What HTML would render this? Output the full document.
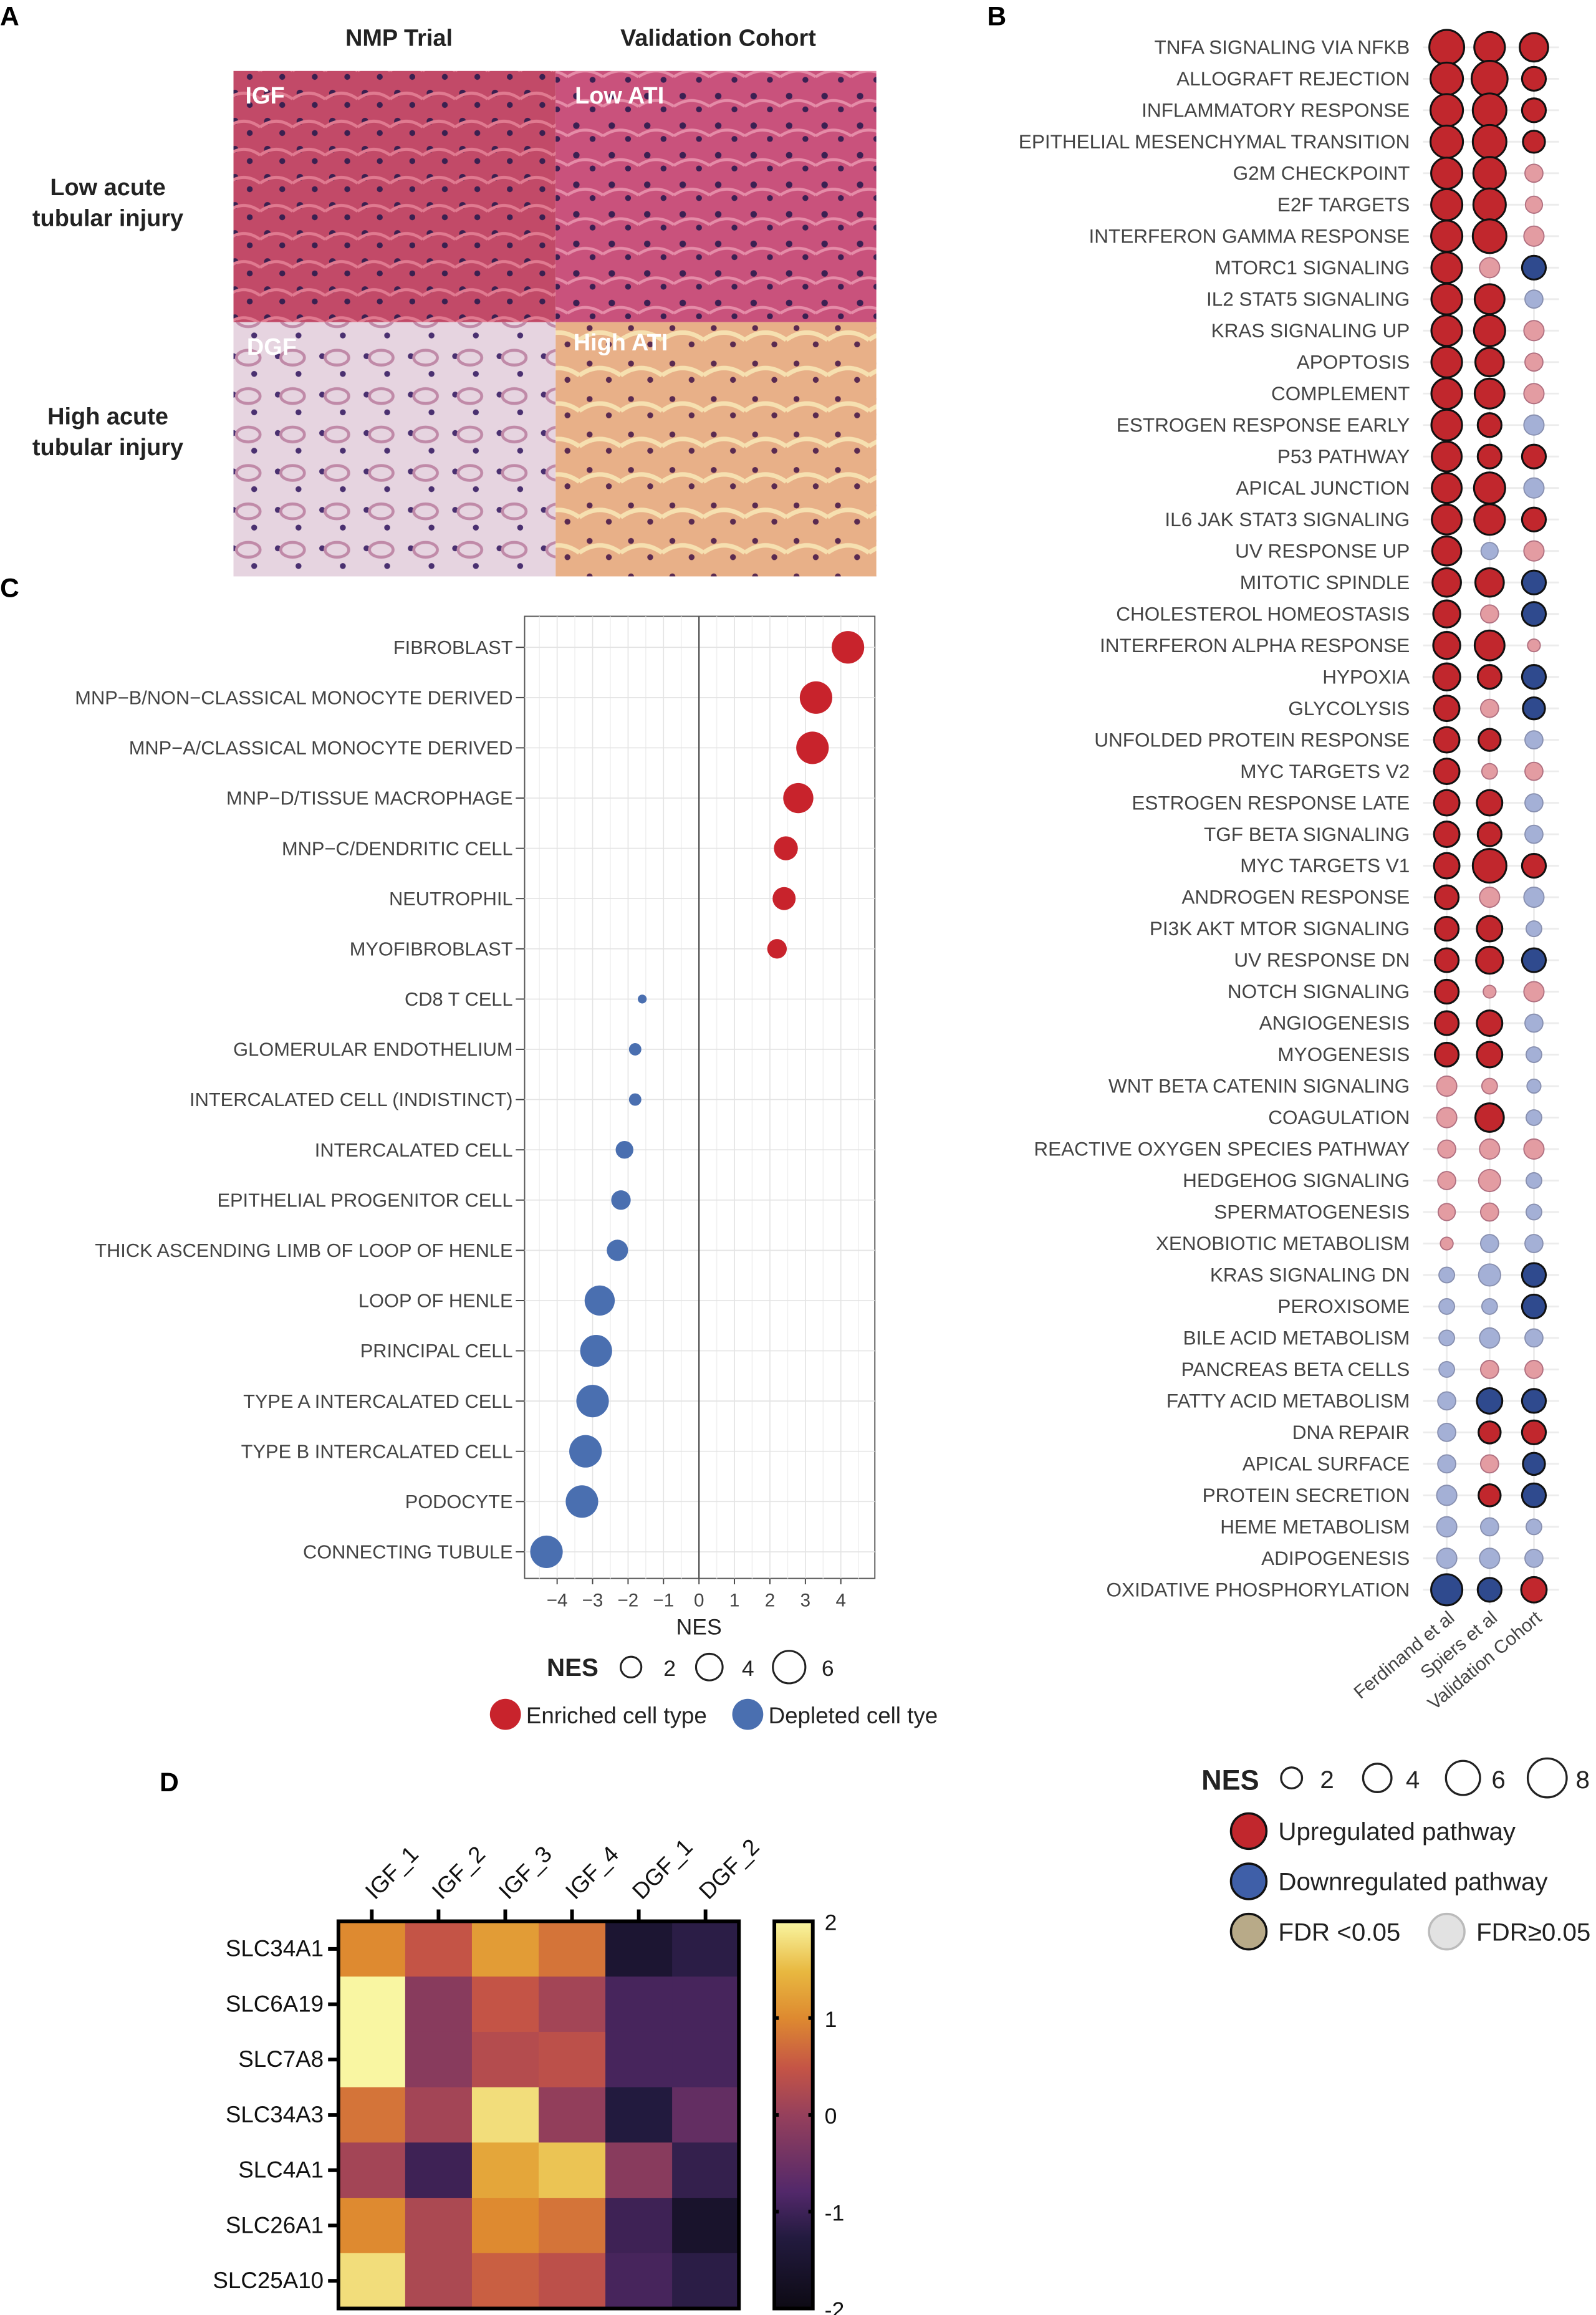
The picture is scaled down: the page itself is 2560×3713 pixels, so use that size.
<!DOCTYPE html>
<html><head><meta charset="utf-8">
<style>
html,body{margin:0;padding:0;background:#fff;}
svg{display:block;font-family:"Liberation Sans",sans-serif;}
</style></head>
<body>
<svg id="fig" width="2560" height="3713" viewBox="0 0 1080 1566.4" xmlns="http://www.w3.org/2000/svg">
<defs>
<linearGradient id="cbar" x1="0" y1="1" x2="0" y2="0">
<stop offset="0" stop-color="#0d0a14"/><stop offset="0.18" stop-color="#221a3e"/><stop offset="0.3" stop-color="#52286a"/>
<stop offset="0.5" stop-color="#96405c"/><stop offset="0.62" stop-color="#c45446"/><stop offset="0.75" stop-color="#de8a30"/>
<stop offset="0.87" stop-color="#e8b840"/><stop offset="1" stop-color="#f9f6a2"/></linearGradient>
<pattern id="nuc1" width="22" height="19" patternUnits="userSpaceOnUse"><rect width="22" height="19" fill="#c24a68"/><circle cx="5" cy="6" r="2.3" fill="#3a2050"/><circle cx="15" cy="14" r="2" fill="#3a2050"/><path d="M0 10 Q11 2 22 10" stroke="#e07a90" stroke-width="2" fill="none"/></pattern>
<pattern id="nuc2" width="24" height="20" patternUnits="userSpaceOnUse"><rect width="24" height="20" fill="#c9527c"/><circle cx="6" cy="5" r="2.2" fill="#3b2052"/><circle cx="17" cy="14" r="2" fill="#3b2052"/><path d="M0 12 Q12 4 24 12" stroke="#e58ca8" stroke-width="2" fill="none"/></pattern>
<pattern id="nuc3" width="30" height="26" patternUnits="userSpaceOnUse"><rect width="30" height="26" fill="#e6d4e0"/><circle cx="8" cy="7" r="2" fill="#4a3070"/><circle cx="22" cy="19" r="2" fill="#4a3070"/><ellipse cx="18" cy="8" rx="8" ry="5" fill="none" stroke="#c08aa8" stroke-width="2"/></pattern>
<pattern id="nuc4" width="28" height="24" patternUnits="userSpaceOnUse"><rect width="28" height="24" fill="#e8b088"/><circle cx="7" cy="6" r="2" fill="#5a2a50"/><circle cx="20" cy="17" r="2" fill="#5a2a50"/><path d="M0 14 Q14 4 28 14" stroke="#f6e0b0" stroke-width="3" fill="none"/></pattern>
</defs>

<text x="0" y="17" font-size="18" font-weight="bold">A</text>
<text x="668" y="17" font-size="18" font-weight="bold">B</text>
<text x="0" y="404" font-size="18" font-weight="bold">C</text>
<text x="108" y="1212" font-size="18" font-weight="bold">D</text>

<g>
<text x="270" y="31" font-size="16" font-weight="bold" text-anchor="middle" fill="#222">NMP Trial</text>
<text x="486" y="31" font-size="16" font-weight="bold" text-anchor="middle" fill="#222">Validation Cohort</text>
<text x="73" y="132" font-size="16" font-weight="bold" text-anchor="middle" fill="#222">Low acute</text>
<text x="73" y="153" font-size="16" font-weight="bold" text-anchor="middle" fill="#222">tubular injury</text>
<text x="73" y="287" font-size="16" font-weight="bold" text-anchor="middle" fill="#222">High acute</text>
<text x="73" y="308" font-size="16" font-weight="bold" text-anchor="middle" fill="#222">tubular injury</text>
<rect x="158" y="48" width="218" height="170" fill="url(#nuc1)"/>
<rect x="376" y="48" width="217" height="170" fill="url(#nuc2)"/>
<rect x="158" y="218" width="218" height="172" fill="url(#nuc3)"/>
<rect x="376" y="218" width="217" height="172" fill="url(#nuc4)"/>
<text x="166" y="70" font-size="16" font-weight="bold" fill="#fff">IGF</text>
<text x="389" y="70" font-size="16" font-weight="bold" fill="#fff">Low ATI</text>
<text x="167" y="240" font-size="16" font-weight="bold" fill="#fff">DGF</text>
<text x="388" y="237" font-size="16" font-weight="bold" fill="#fff">High ATI</text>
</g>

<g id="panelC"></g>
<g id="panelB"></g>
<g id="panelD"></g>
</svg>

<script>
const cellTypes = ["FIBROBLAST","MNP\u2212B/NON\u2212CLASSICAL MONOCYTE DERIVED","MNP\u2212A/CLASSICAL MONOCYTE DERIVED","MNP\u2212D/TISSUE MACROPHAGE","MNP\u2212C/DENDRITIC CELL","NEUTROPHIL","MYOFIBROBLAST","CD8 T CELL","GLOMERULAR ENDOTHELIUM","INTERCALATED CELL (INDISTINCT)","INTERCALATED CELL","EPITHELIAL PROGENITOR CELL","THICK ASCENDING LIMB OF LOOP OF HENLE","LOOP OF HENLE","PRINCIPAL CELL","TYPE A INTERCALATED CELL","TYPE B INTERCALATED CELL","PODOCYTE","CONNECTING TUBULE"];
const cellNES = [4.2,3.3,3.2,2.8,2.45,2.4,2.2,-1.6,-1.8,-1.8,-2.1,-2.2,-2.3,-2.8,-2.9,-3.0,-3.2,-3.3,-4.3];
const nesTicks = [-4,-3,-2,-1,0,1,2,3,4];
const nesTickLabels = ["\u22124","\u22123","\u22122","\u22121","0","1","2","3","4"];

const pathways = ["TNFA SIGNALING VIA NFKB","ALLOGRAFT REJECTION","INFLAMMATORY RESPONSE","EPITHELIAL MESENCHYMAL TRANSITION","G2M CHECKPOINT","E2F TARGETS","INTERFERON GAMMA RESPONSE","MTORC1 SIGNALING","IL2 STAT5 SIGNALING","KRAS SIGNALING UP","APOPTOSIS","COMPLEMENT","ESTROGEN RESPONSE EARLY","P53 PATHWAY","APICAL JUNCTION","IL6 JAK STAT3 SIGNALING","UV RESPONSE UP","MITOTIC SPINDLE","CHOLESTEROL HOMEOSTASIS","INTERFERON ALPHA RESPONSE","HYPOXIA","GLYCOLYSIS","UNFOLDED PROTEIN RESPONSE","MYC TARGETS V2","ESTROGEN RESPONSE LATE","TGF BETA SIGNALING","MYC TARGETS V1","ANDROGEN RESPONSE","PI3K AKT MTOR SIGNALING","UV RESPONSE DN","NOTCH SIGNALING","ANGIOGENESIS","MYOGENESIS","WNT BETA CATENIN SIGNALING","COAGULATION","REACTIVE OXYGEN SPECIES PATHWAY","HEDGEHOG SIGNALING","SPERMATOGENESIS","XENOBIOTIC METABOLISM","KRAS SIGNALING DN","PEROXISOME","BILE ACID METABOLISM","PANCREAS BETA CELLS","FATTY ACID METABOLISM","DNA REPAIR","APICAL SURFACE","PROTEIN SECRETION","HEME METABOLISM","ADIPOGENESIS","OXIDATIVE PHOSPHORYLATION"];
const studies = ["Ferdinand et al","Spiers et al","Validation Cohort"];
const nesFerdinand = [7.5,6.5,6.5,6.5,6,6,6,5.8,5.8,5.8,5.8,5.8,5.8,5.5,5.5,5.5,5.2,5,4.5,4.5,4.5,4,4,4,4,4,4,3.5,3.5,3.5,3.5,3.5,3.5,2.5,2.5,2,2,1.8,1,-1.5,-1.5,-1.5,-1.5,-2,-2,-2,-2.5,-2.5,-2.5,-6];
const nesSpiers = [5.8,8,7,7,6.5,6.5,7,2.5,5.5,6,5,5.5,3.5,3.5,6,5.8,-1.8,5,2,5.5,3.5,2,3,1.5,4,3.5,7,2.5,4,4.5,1,4,4,1.5,5,2.5,3,2,-2,-3,-1.5,-2.5,2,-4,3,2,3,-2,-2.5,-3.5];
const nesValidation = [5,3.5,3.5,3,2,1.8,2.5,-3.5,-2,2.5,2,2.5,-2.5,3.5,-2.5,3.5,2.5,-3.5,-3.5,1,-3.5,-3,-2,2,-2,-2,3.5,-2.5,-1.5,-3.5,2.5,-2,-1.5,-1.2,-1.5,2.5,-1.5,-1.5,-2,-3.5,-3.5,-2,2,-3.5,3.5,-3,-3.5,-1.5,-2,4];
const sigFerdinand = [1,1,1,1,1,1,1,1,1,1,1,1,1,1,1,1,1,1,1,1,1,1,1,1,1,1,1,1,1,1,1,1,1,0,0,0,0,0,0,0,0,0,0,0,0,0,0,0,0,1];
const sigSpiers = [1,1,1,1,1,1,1,0,1,1,1,1,1,1,1,1,0,1,0,1,1,0,1,0,1,1,1,0,1,1,0,1,1,0,1,0,0,0,0,0,0,0,0,1,1,0,1,0,0,1];
const sigValidation = [1,1,1,1,0,0,0,1,0,0,0,0,0,1,0,1,0,1,1,0,1,1,0,0,0,0,1,0,0,1,0,0,0,0,0,0,0,0,0,1,1,0,0,1,1,1,1,0,0,1];
const legendNES = [2,4,6,8];

const genes = ["SLC34A1","SLC6A19","SLC7A8","SLC34A3","SLC4A1","SLC26A1","SLC25A10"];
const samples = ["IGF_1","IGF_2","IGF_3","IGF_4","DGF_1","DGF_2"];
const zIGF1 = [1.0,2.0,2.0,0.8,0.1,1.0,1.8];
const zIGF2 = [0.5,-0.2,-0.2,0.1,-1.0,0.2,0.2];
const zIGF3 = [1.2,0.5,0.3,1.8,1.3,1.0,0.6];
const zIGF4 = [0.8,0.1,0.4,-0.1,1.6,0.8,0.4];
const zDGF1 = [-1.5,-0.9,-0.9,-1.3,-0.2,-1.0,-0.9];
const zDGF2 = [-1.2,-0.9,-0.9,-0.6,-1.1,-1.6,-1.2];
const colorTicks = [2,1,0,-1,-2];

const NS = "http://www.w3.org/2000/svg";
function mk(tag, attrs, parent, txt){
  const e = document.createElementNS(NS, tag);
  for (const k in attrs) e.setAttribute(k, attrs[k]);
  if (txt !== undefined) e.textContent = txt;
  parent.appendChild(e);
  return e;
}

(function(){
  const g = document.getElementById('panelC');
  const x0 = 355, x1 = 592, y0 = 417, y1 = 1068;
  const xs = v => 473 + v * 24;
  const ys = i => 438 + i * 34;
  const rs = v => Math.min(11, 3 + 6 * Math.max(Math.abs(v) - 1.6, 0));
  mk('rect', {x:x0, y:y0, width:x1-x0, height:y1-y0, fill:'#fff', stroke:'#555', 'stroke-width':0.8}, g);
  for (let v = -4.5; v <= 4.5; v += 0.5) {
    const l = mk('line', {x1:xs(v), x2:xs(v), y1:y0, y2:y1, stroke: (v % 1 === 0) ? '#e4e4e4' : '#f0f0f0', 'stroke-width':0.7}, g);
    
    
  }
  cellTypes.forEach((c, i) => {
    const l = mk('line', {x1:x0, x2:x1, y1:ys(i), y2:ys(i), stroke:'#e4e4e4', 'stroke-width':0.7}, g);
    
    
    const t = mk('text', {x:347, y:ys(i)+4.5, 'font-size':13, fill:'#444', 'text-anchor':'end'}, g, c);
    
    
    mk('line', {x1:349, x2:355, y1:ys(i), y2:ys(i), stroke:'#444', 'stroke-width':0.8}, g);
  });
  mk('line', {x1:xs(0), x2:xs(0), y1:y0, y2:y1, stroke:'#555', 'stroke-width':1}, g);
  cellNES.forEach((v, i) => {
    const c = mk('circle', {cx:xs(v), cy:ys(i), r:rs(v), fill: v > 0 ? '#c8232c' : '#4a6fb0'}, g);
    
    
  });
  nesTicks.forEach((v, i) => {
    mk('line', {x1:xs(v), x2:xs(v), y1:y1, y2:y1+4, stroke:'#444', 'stroke-width':0.8}, g);
    const t = mk('text', {x:xs(v), y:1087, 'font-size':12.5, fill:'#444', 'text-anchor':'middle'}, g, nesTickLabels[i]);
    
    
  });
  const xt = mk('text', {x:473, y:1106, 'font-size':15, fill:'#222', 'text-anchor':'middle'}, g, 'NES');
  
  
  const lt = mk('text', {x:370, y:1134, 'font-size':17, 'font-weight':'bold', fill:'#222'}, g, 'NES');
  
  
  [[427,7,'2'],[480,9,'4'],[534,11,'6']].forEach(a => {
    const c = mk('circle', {cx:a[0], cy:1128, r:a[1], fill:'#fff', stroke:'#222', 'stroke-width':1.3}, g);
    
    
    mk('text', {x:a[0]+22, y:1134, 'font-size':15, fill:'#222'}, g, a[2]);
  });
  const e1 = mk('circle', {cx:342, cy:1160, r:10.5, fill:'#c8232c'}, g);
  
  
  mk('text', {x:356, y:1166, 'font-size':15.5, fill:'#222'}, g, 'Enriched cell type');
  const e2 = mk('circle', {cx:506, cy:1160, r:10.5, fill:'#4a6fb0'}, g);
  
  
  mk('text', {x:520, y:1166, 'font-size':15.5, fill:'#222'}, g, 'Depleted cell tye');
})();

(function(){
  const g = document.getElementById('panelB');
  const colX = [979, 1008, 1038];
  const ys = i => 32 + i * 21.3;
  const rs = v => 4.3 * Math.sqrt(Math.abs(v));
  const cols = [nesFerdinand, nesSpiers, nesValidation];
  const sigs = [sigFerdinand, sigSpiers, sigValidation];
  colX.forEach(x => mk('line', {x1:x, x2:x, y1:22, y2:1086, stroke:'#ececec', 'stroke-width':1.2}, g));
  pathways.forEach((p, i) => {
    const y = ys(i);
    mk('line', {x1:963, x2:1055, y1:y, y2:y, stroke:'#ececec', 'stroke-width':1.2}, g);
    const t = mk('text', {x:954, y:y+4.5, 'font-size':13.3, fill:'#444', 'text-anchor':'end'}, g, p);
    
    
  });
  pathways.forEach((p, i) => {
    cols.forEach((arr, j) => {
      const v = arr[i], s = sigs[j][i];
      let fill, stroke, sw;
      if (v > 0) { fill = s ? '#c1272d' : '#e39ca2'; }
      else { fill = s ? '#2f4a8e' : '#a4b0d6'; }
      stroke = s ? '#111' : (v > 0 ? '#b07080' : '#8890b0');
      sw = s ? 1.3 : 0.8;
      const c = mk('circle', {cx:colX[j], cy:ys(i), r:rs(v), fill:fill, stroke:stroke, 'stroke-width':sw}, g);
      
      
    });
  });
  studies.forEach((s, j) => {
    const t = mk('text', {x:colX[j]+6, y:1096, 'font-size':12.6, fill:'#444', 'text-anchor':'end', transform:`rotate(-40 ${colX[j]+6} 1096)`}, g, s);
    
    
  });
  const lt = mk('text', {x:813, y:1211, 'font-size':19, 'font-weight':'bold', fill:'#222'}, g, 'NES');
  
  
  const lx = [874, 932, 990, 1047];
  legendNES.forEach((v, i) => {
    const c = mk('circle', {cx:lx[i], cy:1203, r:4.3*Math.sqrt(v)+1, fill:'#fff', stroke:'#222', 'stroke-width':1.4}, g);
    
    
    mk('text', {x:lx[i]+24, y:1210, 'font-size':17, fill:'#222', 'text-anchor':'middle'}, g, String(v));
  });
  const leg = [[845,1239,'#c1272d','Upregulated pathway'],[845,1273,'#3f5fa8','Downregulated pathway'],[845,1307,'#b8aa88','FDR <0.05'],[979,1307,'#e2e2e2','FDR\u22650.05']];
  leg.forEach(a => {
    const c = mk('circle', {cx:a[0], cy:a[1], r:12, fill:a[2], stroke: a[2]==='#e2e2e2' ? '#bbb' : '#111', 'stroke-width':1.5}, g);
    
    
    mk('text', {x:a[0]+20, y:a[1]+6, 'font-size':17, fill:'#222'}, g, a[3]);
  });
})();

(function(){
  const g = document.getElementById('panelD');
  const x0 = 229, x1 = 500, y0 = 1300, y1 = 1562;
  const cw = (x1 - x0) / samples.length, ch = (y1 - y0) / genes.length;
  const stops = [[-2,[13,10,20]],[-1.3,[34,26,62]],[-0.8,[80,40,100]],[0,[155,65,90]],[0.5,[196,84,70]],[1,[222,138,48]],[1.5,[232,184,64]],[2,[249,246,162]]];
  function col(v){
    v = Math.max(-2, Math.min(2, v));
    for (let k = 0; k < stops.length - 1; k++) {
      const a = stops[k], b = stops[k+1];
      if (v <= b[0]) {
        const t = (v - a[0]) / (b[0] - a[0]);
        const c = a[1].map((x, i) => Math.round(x + (b[1][i] - x) * t));
        return `rgb(${c[0]},${c[1]},${c[2]})`;
      }
    }
    return 'rgb(249,246,162)';
  }
  const cols = [zIGF1, zIGF2, zIGF3, zIGF4, zDGF1, zDGF2];
  cols.forEach((arr, j) => {
    arr.forEach((v, i) => {
      const r = mk('rect', {x:x0 + j*cw, y:y0 + i*ch, width:cw+0.3, height:ch+0.3, fill:col(v)}, g);
      
      
    });
  });
  mk('rect', {x:x0, y:y0, width:x1-x0, height:y1-y0, fill:'none', stroke:'#000', 'stroke-width':2.5}, g);
  genes.forEach((gn, i) => {
    const y = y0 + (i + 0.5) * ch;
    mk('line', {x1:x0-7, x2:x0, y1:y, y2:y, stroke:'#000', 'stroke-width':2.5}, g);
    const t = mk('text', {x:x0-10, y:y+5, 'font-size':15.5, fill:'#111', 'text-anchor':'end'}, g, gn);
    
    
  });
  samples.forEach((s, j) => {
    const x = x0 + (j + 0.5) * cw;
    mk('line', {x1:x, x2:x, y1:y0-8, y2:y0, stroke:'#000', 'stroke-width':2.5}, g);
    const t = mk('text', {x:x+2, y:y0-14, 'font-size':15.5, fill:'#111', transform:`rotate(-45 ${x+2} ${y0-14})`}, g, s);
    
    
  });
  const bx = 524, bw = 26;
  const cb = mk('rect', {x:bx, y:y0, width:bw, height:y1-y0, fill:'url(#cbar)', stroke:'#000', 'stroke-width':2.5}, g);
  
  
  const vy = v => (y0 + y1) / 2 - v * (y1 - y0) / 4;
  colorTicks.forEach(v => {
    if (Math.abs(v) < 2) {
      mk('line', {x1:bx, x2:bx+3, y1:vy(v), y2:vy(v), stroke:'#000', 'stroke-width':2.5}, g);
      mk('line', {x1:bx+bw-3, x2:bx+bw, y1:vy(v), y2:vy(v), stroke:'#000', 'stroke-width':2.5}, g);
    }
    const t = mk('text', {x:558, y:vy(v)+6, 'font-size':15, fill:'#111'}, g, String(v));
    
    
  });
})();
</script>
</body></html>
